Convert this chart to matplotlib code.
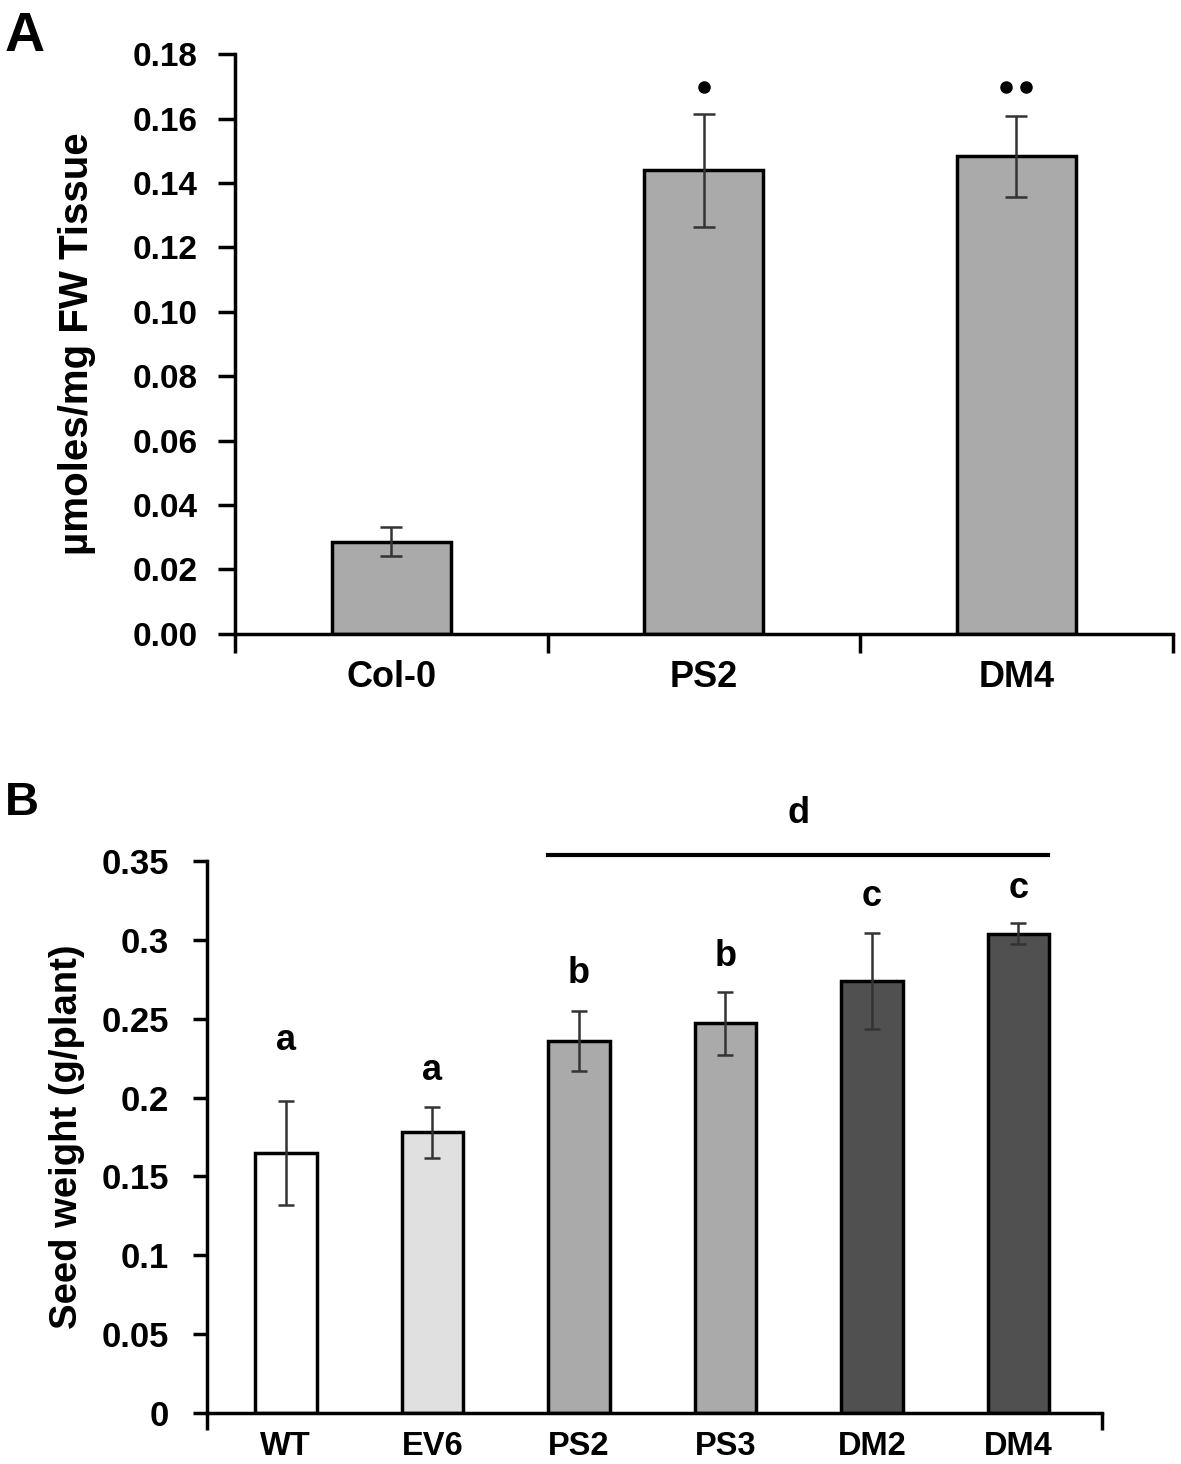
import matplotlib.pyplot as plt
import numpy as np

plt.rcParams['font.family'] = ['Liberation Sans', 'DejaVu Sans']
plt.rcParams['font.weight'] = 'bold'

# panel A
a_names = ['Col-0', 'PS2', 'DM4']
a_vals = [0.0286, 0.1439, 0.1483]
a_err = [0.0045, 0.0175, 0.0125]
a_marks = [0, 1, 2]          # number of dots above each bar
a_mark_y = 0.1697

# panel B
b_names = ['WT', 'EV6', 'PS2', 'PS3', 'DM2', 'DM4']
b_vals = [0.1650, 0.1780, 0.2360, 0.2470, 0.2740, 0.3040]
b_err = [0.0330, 0.0160, 0.0190, 0.0200, 0.0305, 0.0065]
b_letters = ['a', 'a', 'b', 'b', 'c', 'c']
b_letter_y = [0.230, 0.211, 0.2726, 0.2834, 0.3215, 0.3265]
b_colors = ['#ffffff', '#e0e0e0', '#aaaaaa', '#aaaaaa', '#505050', '#505050']

fig = plt.figure(figsize=(11.81, 14.64), dpi=100)

# ---------- A ----------
ax = fig.add_axes([0.199, 0.567, 0.794, 0.396])
x = np.arange(len(a_names))
ax.bar(x, a_vals, width=0.38, color='#aaaaaa', edgecolor='black', linewidth=2.5, zorder=2)
ax.errorbar(x, a_vals, yerr=a_err, fmt='none', ecolor='#333333', elinewidth=1.8,
            capsize=8, capthick=1.8, zorder=3)
for i, n in enumerate(a_marks):
    if n == 1:
        ax.plot([i], [a_mark_y], 'o', color='black', ms=8, clip_on=False)
    elif n == 2:
        ax.plot([i - 0.032, i + 0.032], [a_mark_y, a_mark_y], 'o', color='black', ms=8,
                ls='none', clip_on=False)
ax.set_xlim(-0.5, 2.5)
ax.set_ylim(0, 0.18)
ax.set_yticks(np.arange(0, 0.181, 0.02))
ax.set_yticklabels(['%.2f' % v for v in np.arange(0, 0.181, 0.02)])
ax.set_xticks([-0.5, 0.5, 1.5, 2.5])
ax.set_xticklabels([])
ax.set_xticks(x, minor=True)
ax.set_xticklabels(a_names, minor=True)
ax.tick_params(axis='x', which='minor', length=0, pad=19, labelsize=26)
ax.tick_params(axis='x', which='major', length=14, width=2.5, direction='out')
ax.tick_params(axis='y', length=12, width=2.5, direction='out', labelsize=24, pad=15)
for s in ['top', 'right']:
    ax.spines[s].set_visible(False)
for s in ['left', 'bottom']:
    ax.spines[s].set_linewidth(2.5)
ax.set_ylabel('\u00b5moles/mg FW Tissue', fontsize=29, fontweight='bold', labelpad=26)
fig.text(0.004, 0.965, 'A', fontsize=40, fontweight='bold')

# ---------- B ----------
bx = fig.add_axes([0.175, 0.0348, 0.758, 0.3771])
x2 = np.arange(len(b_names))
bx.bar(x2, b_vals, width=0.42, color=b_colors, edgecolor='black', linewidth=2.5, zorder=2)
bx.errorbar(x2, b_vals, yerr=b_err, fmt='none', ecolor='#333333', elinewidth=1.8,
            capsize=6, capthick=1.8, zorder=3)
for i, (t, yy) in enumerate(zip(b_letters, b_letter_y)):
    bx.text(i, yy, t, ha='center', va='baseline', fontsize=26, fontweight='bold')
bx.plot([1.79, 5.2], [0.3538, 0.3538], color='black', lw=3, clip_on=False)
bx.text(3.5, 0.374, 'd', ha='center', va='baseline', fontsize=26, fontweight='bold')
bx.set_xlim(-0.54, 5.57)
bx.set_ylim(0, 0.35)
yt = np.arange(0, 0.351, 0.05)
bx.set_yticks(yt)
bx.set_yticklabels(['0', '0.05', '0.1', '0.15', '0.2', '0.25', '0.3', '0.35'])
bx.set_xticks([-0.54, 5.57])
bx.set_xticklabels([])
bx.set_xticks(x2, minor=True)
bx.set_xticklabels(b_names, minor=True)
for lab in bx.get_xticklabels(minor=True):
    if lab.get_text() == 'PS3':
        lab.set_fontsize(28)
bx.tick_params(axis='x', which='minor', length=0, pad=13, labelsize=23.5)
bx.tick_params(axis='x', which='major', length=12, width=2.5, direction='out')
bx.tick_params(axis='y', length=10, width=2.5, direction='out', labelsize=25, pad=17)
for s in ['top', 'right']:
    bx.spines[s].set_visible(False)
for s in ['left', 'bottom']:
    bx.spines[s].set_linewidth(2.5)
bx.set_ylabel('Seed weight (g/plant)', fontsize=27.5, fontweight='bold', labelpad=12)
fig.text(0.004, 0.443, 'B', fontsize=34, fontweight='bold')

fig.savefig('out.png', dpi=100)
